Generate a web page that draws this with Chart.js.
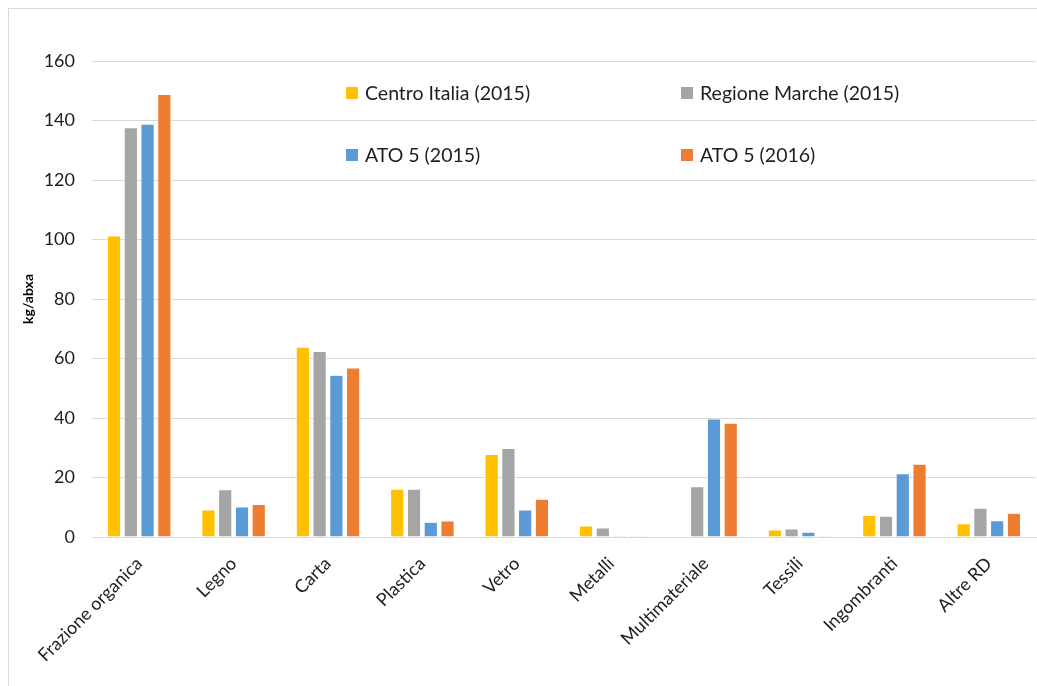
<!DOCTYPE html>
<html>
<head>
<meta charset="utf-8">
<script src="https://cdn.jsdelivr.net/npm/chart.js@4.4.1/dist/chart.umd.min.js"></script>
<style>
  html, body { margin: 0; padding: 0; background: #fff; }
  #wrap { position: relative; width: 1037px; height: 686px; }
  #frame { position: absolute; left: 8px; top: 8px; width: 1040px; height: 690px; border: 1px solid #d9d9d9; box-sizing: border-box; }
  canvas { position: absolute; left: 0; top: 0; }
</style>
</head>
<body>
<div id="wrap">
  <div id="frame"></div>
  <canvas id="c" width="1037" height="686"></canvas>
</div>
<script>
// Raccolta differenziata per frazione (kg per abitante equivalente)
const categories = ["Frazione organica", "Legno", "Carta", "Plastica", "Vetro", "Metalli", "Multimateriale", "Tessili", "Ingombranti", "Altre RD"];
const centroItalia2015 = [101.2, 9.1, 63.8, 16.1, 27.8, 3.7, 0, 2.4, 7.3, 4.5];
const regioneMarche2015 = [137.6, 15.9, 62.4, 16.1, 29.8, 3.1, 16.9, 2.7, 7.0, 9.7];
const ato5_2015 = [138.8, 10.1, 54.4, 5.0, 9.1, 0.3, 39.7, 1.6, 21.3, 5.5];
const ato5_2016 = [148.8, 11.0, 56.8, 5.4, 12.7, 0.3, 38.3, 0.3, 24.5, 8.0];
const yTicks = [0, 20, 40, 60, 80, 100, 120, 140, 160];
const yTitle = "kg/abxa";

const FONT = "Lato, 'Noto Sans', sans-serif";

// Two-column legend drawn inside the plot area
const inlineLegend = {
  id: 'inlineLegend',
  afterDraw(chart) {
    const { ctx, chartArea } = chart;
    const cols = [chartArea.left + 254, chartArea.left + 589];
    const rows = [chartArea.top + 32, chartArea.top + 94];
    ctx.save();
    ctx.font = "19.5px " + FONT;
    ctx.textBaseline = 'middle';
    chart.data.datasets.forEach((ds, i) => {
      const x = cols[i % 2];
      const y = rows[Math.floor(i / 2)];
      ctx.fillStyle = ds.backgroundColor;
      ctx.fillRect(x, y - 6, 12, 12);
      ctx.fillStyle = '#1e1e1e';
      ctx.fillText(ds.label, x + 19, y + 1);
    });
    ctx.restore();
  }
};

const mk = (label, data, color) => ({
  label, data, backgroundColor: color, borderColor: '#ffffff', borderWidth: 0.6,
  categoryPercentage: 0.71, barPercentage: 0.8
});

new Chart(document.getElementById('c'), {
  type: 'bar',
  data: {
    labels: categories,
    datasets: [
      mk("Centro Italia (2015)", centroItalia2015, '#FFC000'),
      mk("Regione Marche (2015)", regioneMarche2015, '#A5A5A5'),
      mk("ATO 5 (2015)", ato5_2015, '#5B9BD5'),
      mk("ATO 5 (2016)", ato5_2016, '#ED7D31')
    ]
  },
  options: {
    responsive: false,
    animation: false,
    layout: { padding: { left: 18, right: 1, top: 61, bottom: 0 } },
    plugins: { legend: { display: false }, tooltip: { enabled: false } },
    scales: {
      x: {
        grid: { display: false },
        border: { color: '#d9d9d9', width: 1 },
        ticks: {
          color: '#1e1e1e', font: { family: FONT, size: 18 },
          maxRotation: 45, minRotation: 45, padding: 8
        },
        afterFit(scale) { scale.height = 149; }
      },
      y: {
        min: 0, max: 160,
        afterBuildTicks(scale) { scale.ticks = yTicks.map(v => ({ value: v })); },
        grid: { color: '#d9d9d9', drawTicks: false },
        border: { display: false },
        ticks: { color: '#1e1e1e', font: { family: FONT, size: 18 }, padding: 17 },
        title: { display: true, text: yTitle, color: '#000', font: { family: FONT, size: 14, weight: 'bold' }, padding: 2 },
        afterFit(scale) { scale.width = 74; }
      }
    }
  },
  plugins: [inlineLegend]
});
</script>
</body>
</html>
